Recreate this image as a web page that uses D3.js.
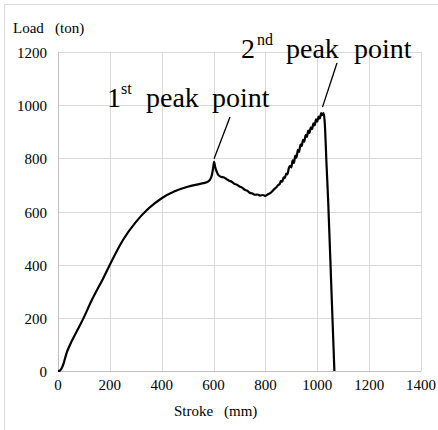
<!DOCTYPE html>
<html>
<head>
<meta charset="utf-8">
<script src="https://d3js.org/d3.v7.min.js"></script>
<style>
  body { margin: 0; background: #fff; }
</style>
</head>
<body>
<svg id="chart" width="438" height="430"></svg>
<script>
// load-stroke curve (noisy part kept as read)
const strokeVals = [0, 8, 15, 22, 33, 46, 70, 98, 130, 175, 200, 250, 300, 350, 400, 450, 500, 548, 573, 585,
  593, 598, 602, 606, 612, 618, 630, 640, 650, 660, 670, 680, 690, 700, 710, 720, 730, 740, 750, 760,
  770, 780, 790, 800, 810, 820, 830, 840, 850, 855, 860, 865, 870, 875, 880, 885, 890, 895, 900, 905,
  910, 915, 920, 925, 930, 935, 940, 945, 950, 955, 960, 965, 970, 975, 980, 985, 990, 995, 1000, 1005,
  1010, 1015, 1020, 1024, 1028, 1036, 1042, 1054, 1066];
const loadVals = [0, 2, 12, 30, 67, 98, 145, 198, 266, 350, 400, 492, 560, 612, 650, 676, 693, 704, 710, 718,
  735, 762, 787, 768, 750, 738, 730, 728, 722, 716, 712, 704, 701, 694, 690, 682, 678, 670, 668, 663,
  664, 660, 662, 659, 665, 670, 680, 689, 700, 703, 715, 712, 728, 725, 743, 740, 762, 772, 766, 792,
  783, 810, 803, 832, 824, 852, 846, 870, 863, 887, 881, 904, 896, 917, 910, 932, 924, 947, 938, 957,
  950, 970, 963, 970, 945, 769, 640, 320, 0];

const xTicks = [0, 200, 400, 600, 800, 1000, 1200, 1400];
const yTicks = [0, 200, 400, 600, 800, 1000, 1200];

const serif = '"Liberation Serif"';
const svg = d3.select('#chart');
const margin = { top: 52, right: 17, bottom: 59, left: 58 };
const width = 438;
const height = 430;

const x = d3.scaleLinear().domain([0, 1400]).range([margin.left, width - margin.right]);
const y = d3.scaleLinear().domain([0, 1200]).range([height - margin.bottom, margin.top]);

function label (g, px, py, size, txt) {
  return g.append('text')
    .attr('x', px).attr('y', py)
    .style('font-family', serif)
    .style('font-size', size + 'px')
    .style('fill', '#000')
    .text(txt);
}

// chart frame (cropped on right / bottom)
svg.append('rect')
  .attr('x', 4.5).attr('y', 4.5)
  .attr('width', 450).attr('height', 450)
  .attr('fill', 'none').attr('stroke', '#d9d9d9');

// grid
svg.append('g')
  .selectAll('line')
  .data(xTicks)
  .join('line')
  .attr('x1', d => Math.round(x(d)) + 0.5).attr('x2', d => Math.round(x(d)) + 0.5)
  .attr('y1', y(0)).attr('y2', y(1200))
  .attr('stroke', '#d9d9d9');

svg.append('g')
  .selectAll('line')
  .data(yTicks)
  .join('line')
  .attr('x1', x(0)).attr('x2', x(1400))
  .attr('y1', d => Math.round(y(d)) + 0.5).attr('y2', d => Math.round(y(d)) + 0.5)
  .attr('stroke', '#d9d9d9');

// axis lines
svg.append('line')
  .attr('x1', x(0)).attr('x2', x(1400))
  .attr('y1', Math.round(y(0)) + 0.5).attr('y2', Math.round(y(0)) + 0.5)
  .attr('stroke', '#bfbfbf');
svg.append('line')
  .attr('x1', Math.round(x(0)) + 0.5).attr('x2', Math.round(x(0)) + 0.5)
  .attr('y1', y(0)).attr('y2', y(1200))
  .attr('stroke', '#bfbfbf');

// tick labels
svg.append('g')
  .selectAll('text')
  .data(xTicks)
  .join('text')
  .attr('x', d => x(d))
  .attr('y', 390)
  .attr('text-anchor', 'middle')
  .style('font-family', serif)
  .style('font-size', '15px')
  .text(d => d);

svg.append('g')
  .selectAll('text')
  .data(yTicks)
  .join('text')
  .attr('x', 47)
  .attr('y', d => y(d) + 6)
  .attr('text-anchor', 'end')
  .style('font-family', serif)
  .style('font-size', '15px')
  .text(d => d);

// axis titles
label(svg, 13, 33, 15, 'Load');
label(svg, 55, 33, 15, '(ton)');
label(svg, 174, 416, 15, 'Stroke');
label(svg, 224, 416, 15, '(mm)');

// the curve
const pts = strokeVals.map((s, i) => [s, loadVals[i]]);
const line = d3.line().x(d => x(d[0])).y(d => y(d[1])).curve(d3.curveMonotoneX);
svg.append('path')
  .datum(pts)
  .attr('d', line)
  .attr('fill', 'none')
  .attr('stroke', '#000')
  .attr('stroke-width', 2.2)
  .attr('stroke-linejoin', 'round');

// annotations
const ann = svg.append('g');
label(ann, 107, 107, 28, '1');
label(ann, 121, 94, 16, 'st');
label(ann, 146, 107, 28, 'peak');
label(ann, 212, 107, 28, 'point');
label(ann, 241, 58, 28, '2');
label(ann, 257, 45, 16, 'nd');
label(ann, 286, 58, 28, 'peak');
label(ann, 354, 58, 28, 'point');

svg.append('line')
  .attr('x1', 230).attr('y1', 117).attr('x2', x(602)).attr('y2', y(787) - 3)
  .attr('stroke', '#000').attr('stroke-width', 1.3);
svg.append('line')
  .attr('x1', 337).attr('y1', 63).attr('x2', x(1020)).attr('y2', y(970) - 6)
  .attr('stroke', '#000').attr('stroke-width', 1.3);
</script>
</body>
</html>
